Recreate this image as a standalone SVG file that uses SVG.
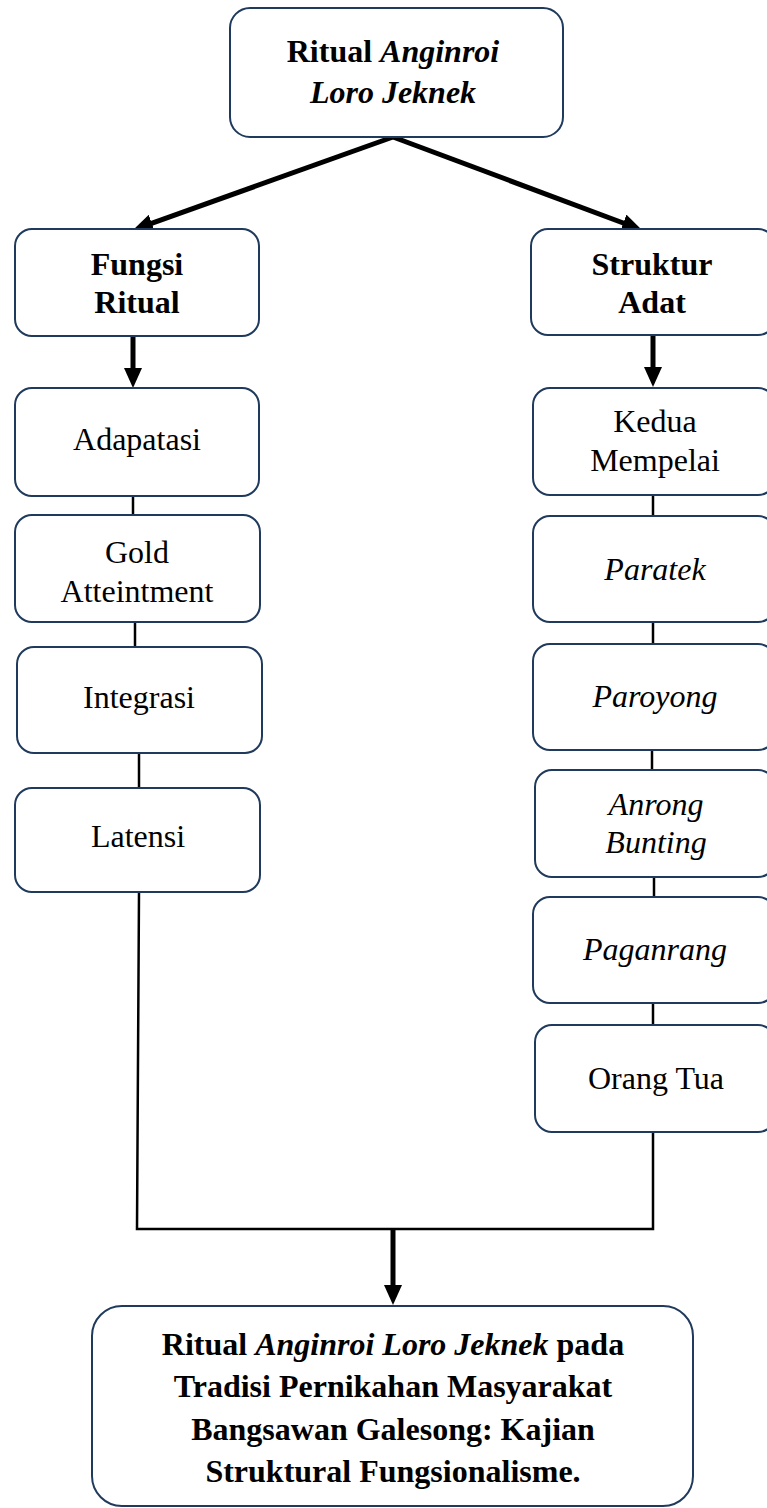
<svg xmlns="http://www.w3.org/2000/svg" width="767" height="1508" viewBox="0 0 767 1508">
<style>
.box{fill:#ffffff;stroke:#1f3a5c;stroke-width:2}
.t{font-family:"Liberation Serif","Times New Roman",serif;font-size:32px;fill:#000;text-anchor:middle}
.b{font-weight:bold}
.i{font-style:italic}
.thin{stroke:#000;stroke-width:2.5;fill:none}
.thick{stroke:#000;stroke-width:5;fill:none}
</style>
<defs>
<marker id="ah" markerUnits="userSpaceOnUse" markerWidth="20" markerHeight="18" refX="10" refY="9" orient="auto">
<path d="M0,0 L20,9 L0,18 z" fill="#000"/>
</marker>
</defs>
<rect width="767" height="1508" fill="#fff"/>
<g id="connectors">
<line class="thick" x1="393" y1="137" x2="142.4" y2="226.6" marker-end="url(#ah)"/>
<line class="thick" x1="393" y1="137" x2="632.6" y2="226.5" marker-end="url(#ah)"/>
<line class="thick" x1="133" y1="336" x2="133" y2="378" marker-end="url(#ah)"/>
<line class="thick" x1="653" y1="335" x2="653" y2="377" marker-end="url(#ah)"/>
<line class="thin" x1="133" y1="496" x2="133" y2="515"/>
<line class="thin" x1="135" y1="622" x2="135" y2="647"/>
<line class="thin" x1="139" y1="753" x2="139" y2="788"/>
<line class="thin" x1="653" y1="495" x2="653" y2="516"/>
<line class="thin" x1="653" y1="622" x2="653" y2="644"/>
<line class="thin" x1="652" y1="750" x2="652" y2="770"/>
<line class="thin" x1="654" y1="877" x2="654" y2="897"/>
<line class="thin" x1="653" y1="1003" x2="653" y2="1025"/>
<polyline class="thin" points="139,892 137,1229 653,1229 653,1132"/>
<line class="thick" x1="393" y1="1229" x2="393" y2="1295" marker-end="url(#ah)"/>
</g>
<g id="top">
<rect class="box" x="230" y="8" width="333" height="129" rx="20"/>
<text class="t b" x="393" y="62" font-size="33">Ritual <tspan class="i">Anginroi</tspan></text>
<text class="t b i" x="393" y="103" font-size="33">Loro Jeknek</text>
</g>
<g id="fungsi">
<rect class="box" x="15" y="229" width="244" height="107" rx="17"/>
<text class="t b" x="137" y="275">Fungsi</text>
<text class="t b" x="137" y="313">Ritual</text>
</g>
<g id="adapatasi">
<rect class="box" x="15" y="388" width="244" height="108" rx="17"/>
<text class="t" x="137" y="450">Adapatasi</text>
</g>
<g id="gold">
<rect class="box" x="15" y="515" width="245" height="107" rx="17"/>
<text class="t" x="137" y="563">Gold</text>
<text class="t" x="137" y="602">Atteintment</text>
</g>
<g id="integrasi">
<rect class="box" x="17" y="647" width="245" height="106" rx="17"/>
<text class="t" x="139" y="708">Integrasi</text>
</g>
<g id="latensi">
<rect class="box" x="15" y="788" width="245" height="104" rx="17"/>
<text class="t" x="138" y="847">Latensi</text>
</g>
<g id="struktur">
<rect class="box" x="531" y="229" width="244" height="106" rx="17"/>
<text class="t b" x="652" y="275">Struktur</text>
<text class="t b" x="652" y="313">Adat</text>
</g>
<g id="kedua">
<rect class="box" x="533" y="388" width="242" height="107" rx="17"/>
<text class="t" x="655" y="432">Kedua</text>
<text class="t" x="655" y="471">Mempelai</text>
</g>
<g id="paratek">
<rect class="box" x="533" y="516" width="242" height="106" rx="17"/>
<text class="t i" x="655" y="580">Paratek</text>
</g>
<g id="paroyong">
<rect class="box" x="533" y="644" width="242" height="106" rx="17"/>
<text class="t i" x="655" y="707">Paroyong</text>
</g>
<g id="anrong">
<rect class="box" x="535" y="770" width="240" height="107" rx="17"/>
<text class="t i" x="656" y="815">Anrong</text>
<text class="t i" x="656" y="853">Bunting</text>
</g>
<g id="paganrang">
<rect class="box" x="533" y="897" width="242" height="106" rx="17"/>
<text class="t i" x="655" y="960">Paganrang</text>
</g>
<g id="orangtua">
<rect class="box" x="535" y="1025" width="240" height="107" rx="17"/>
<text class="t" x="656" y="1089">Orang Tua</text>
</g>
<g id="result">
<rect class="box" x="92" y="1306" width="601" height="200" rx="30"/>
<text class="t b" x="393" y="1355">Ritual <tspan class="i">Anginroi Loro Jeknek</tspan> pada</text>
<text class="t b" x="393" y="1397">Tradisi Pernikahan Masyarakat</text>
<text class="t b" x="393" y="1440">Bangsawan Galesong: Kajian</text>
<text class="t b" x="393" y="1482">Struktural Fungsionalisme.</text>
</g>
</svg>
